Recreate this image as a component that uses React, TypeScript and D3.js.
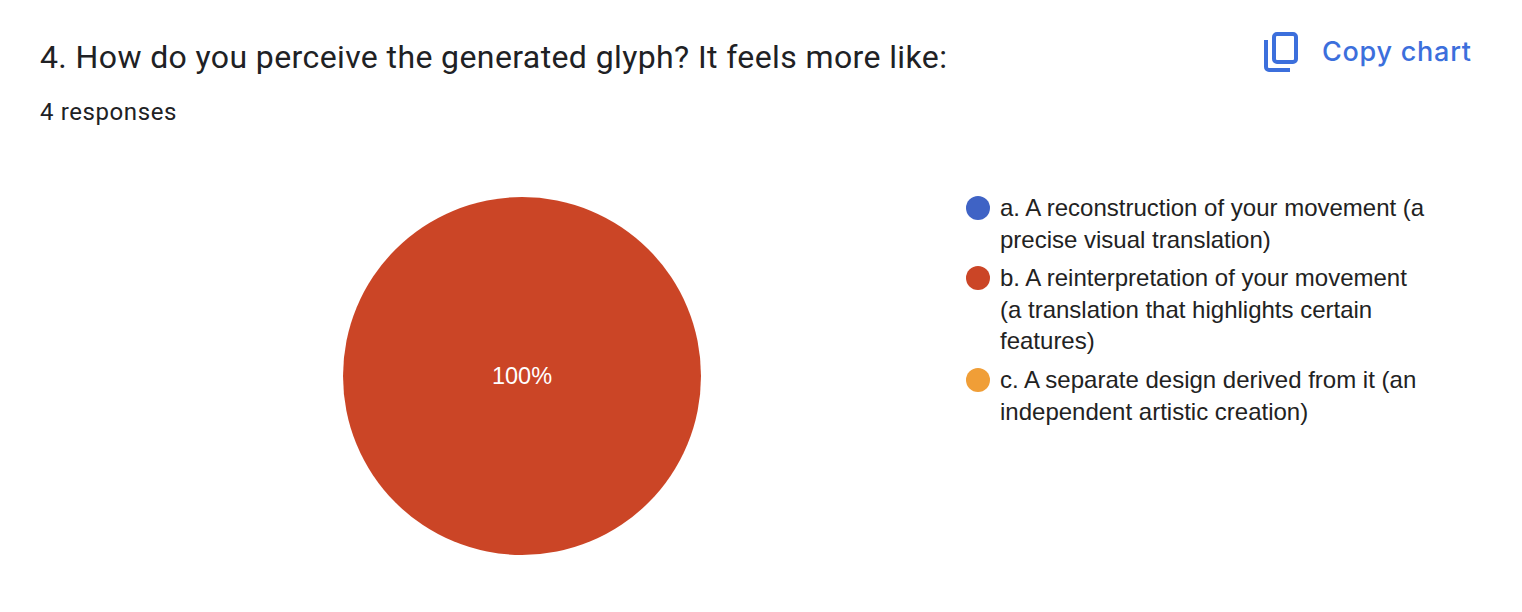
import React, { useEffect, useRef } from 'react';
import * as d3 from 'd3';

const categories = ['a', 'b', 'c'];
const values = [0, 4, 0];
const colors = ['#3f63c5', '#cb4526', '#f09e37'];
const legendLines = [
  ['a. A reconstruction of your movement (a', 'precise visual translation)'],
  ['b. A reinterpretation of your movement', '(a translation that highlights certain', 'features)'],
  ['c. A separate design derived from it (an', 'independent artistic creation)'],
];
const title = '4. How do you perceive the generated glyph? It feels more like:';
const subtitle = '4 responses';

const App: React.FC = () => {
  const ref = useRef<SVGSVGElement | null>(null);

  useEffect(() => {
    if (!ref.current) return;
    const svg = d3.select(ref.current);
    svg.selectAll('*').remove();

    const heading = '"Roboto", sans-serif';
    const body = '"Liberation Sans", Arial, sans-serif';

    svg.append('text').attr('x', 40).attr('y', 67.5)
      .attr('font-family', heading).attr('font-size', 32).attr('letter-spacing', 0.39)
      .attr('fill', '#202124').text(title);
    svg.append('text').attr('x', 40).attr('y', 120)
      .attr('font-family', heading).attr('font-size', 24).attr('letter-spacing', 0.6)
      .attr('fill', '#202124').text(subtitle);

    // copy icon
    const icon = svg.append('g').attr('fill', 'none').attr('stroke', '#3c6fdc').attr('stroke-width', 4);
    icon.append('path').attr('d', 'M1266 40 V67 a3 3 0 0 0 3 3 H1290');
    icon.append('rect').attr('x', 1274).attr('y', 34).attr('width', 22).attr('height', 28).attr('rx', 3);
    svg.append('text').attr('x', 1322).attr('y', 61)
      .attr('font-family', '"Inter", sans-serif').attr('font-size', 27).attr('font-weight', 500)
      .attr('letter-spacing', 0.75)
      .attr('fill', '#3c6fdc').text('Copy chart');

    const pie = d3.pie<number>().sort(null)(values);
    const arc = d3.arc<d3.PieArcDatum<number>>().innerRadius(0).outerRadius(179);
    const g = svg.append('g').attr('transform', 'translate(522,376)');
    g.selectAll('path').data(pie).join('path')
      .attr('d', arc)
      .attr('fill', (_, i) => colors[i]);

    const total = d3.sum(values);
    g.selectAll('text').data(pie.filter(d => d.value > 0)).join('text')
      .attr('transform', d => {
        const c = d.endAngle - d.startAngle >= 2 * Math.PI ? [0, 0] : arc.centroid(d);
        return `translate(${c[0]},${c[1]})`;
      })
      .attr('text-anchor', 'middle').attr('dy', 8)
      .attr('font-family', body).attr('font-size', 23.5).attr('fill', '#ffffff')
      .text(d => `${d3.format('.0%')(d.value / total)}`);

    const circleYs = [208, 278, 380];
    const lineStep = 31.7;
    categories.forEach((c, i) => {
      const cy = circleYs[i];
      svg.append('circle').attr('cx', 978).attr('cy', cy).attr('r', 12).attr('fill', colors[i]);
      legendLines[i].forEach((line, j) => {
        svg.append('text').attr('x', 1000).attr('y', cy + 8 + j * lineStep)
          .attr('font-family', body).attr('font-size', 24).attr('fill', '#222222').text(line);
      });
    });
  }, []);

  return <svg ref={ref} width={1522} height={612} style={{ position: 'absolute', left: 0, top: 0, background: '#fff' }} />;
};

export default App;
